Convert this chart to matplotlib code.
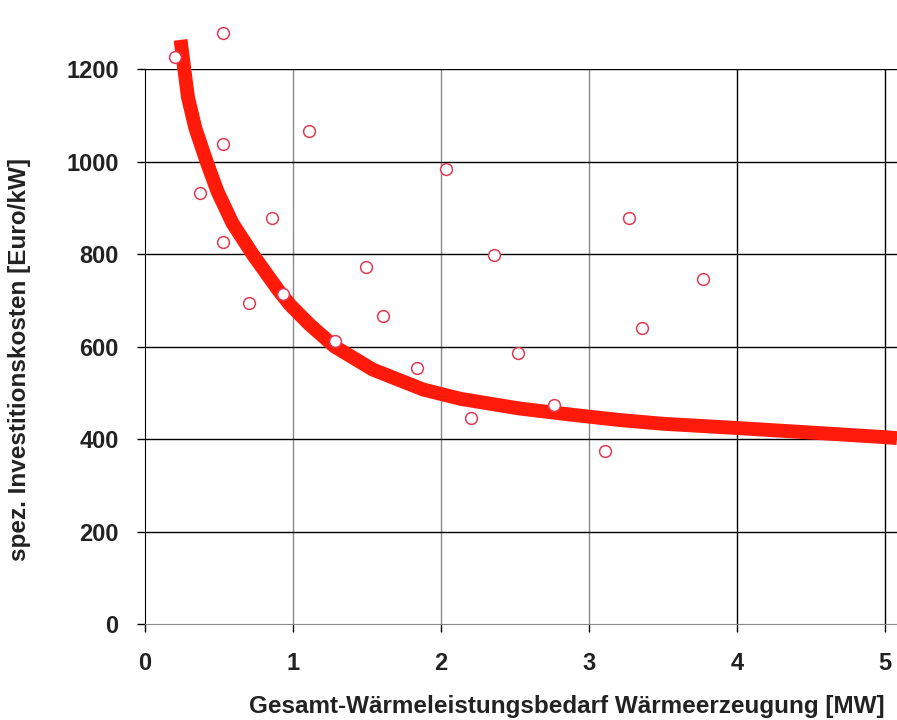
import matplotlib
matplotlib.use('Agg')
import matplotlib.pyplot as plt

# Messpunkte
leistung_mw = [0.20, 0.53, 0.53, 0.37, 0.53, 1.11, 0.86, 0.70, 0.93, 1.49, 1.61,
               1.28, 1.84, 2.03, 2.36, 2.52, 2.20, 2.76, 3.11, 3.27, 3.36, 3.77]
kosten = [1226, 1278, 1038, 932, 826, 1066, 878, 694, 714, 772, 666,
          612, 554, 984, 798, 586, 445, 473, 374, 878, 640, 746]

# Ausgleichskurve
kurve_x = [0.24, 0.26, 0.29, 0.34, 0.42, 0.49, 0.59, 0.73, 0.90, 0.98, 1.11, 1.28,
           1.54, 1.88, 2.13, 2.53, 2.87, 3.21, 3.50, 3.99, 4.50, 5.00, 5.08]
kurve_y = [1263, 1213, 1139, 1072, 996, 935, 867, 798, 722, 690, 648, 600,
           550, 507, 487, 466, 453, 441, 433, 424, 414, 404, 402]

x_ticks = [0, 1, 2, 3, 4, 5]
y_ticks = [0, 200, 400, 600, 800, 1000, 1200]

plt.rcParams['font.family'] = ['Liberation Sans', 'DejaVu Sans']

fig = plt.figure(figsize=(8.97, 7.2), dpi=100)
ax = fig.add_axes([0.1617, 0.1333, 0.8383, 0.7708])

ax.set_xlim(0, 5.08)
ax.set_ylim(0, 1200)
ax.set_xticks(x_ticks)
ax.set_yticks(y_ticks)

ax.grid(True, color='black', linewidth=1.0)
for i, gl in enumerate(ax.get_xgridlines()):
    if i in (1, 2, 3):
        gl.set_color('#8a8a8a')
    elif i == 0:
        gl.set_visible(False)
for i, gl in enumerate(ax.get_ygridlines()):
    if i == 0:
        gl.set_visible(False)
ax.set_axisbelow(True)

for s in ['top', 'right']:
    ax.spines[s].set_visible(False)
ax.spines['left'].set_color('black')
ax.spines['bottom'].set_color('#8a8a8a')

ax.plot(kurve_x, kurve_y, color='#ff1a0a', linewidth=10, solid_capstyle='butt',
        solid_joinstyle='round', clip_on=False, zorder=3)
ax.plot(leistung_mw, kosten, linestyle='none', marker='o', markersize=8.5,
        markerfacecolor='white', markeredgecolor='#e23a52', markeredgewidth=1.1,
        clip_on=False, zorder=4)

ax.tick_params(axis='y', length=6, width=1, color='black', pad=13,
               labelsize=17, labelcolor='#222222')
ax.tick_params(axis='x', length=6, width=1, color='black', pad=14,
               labelsize=17, labelcolor='#222222')
for lab in ax.get_xticklabels() + ax.get_yticklabels():
    lab.set_fontweight('bold')

ax.set_ylabel('spez. Investitionskosten [Euro/kW]', fontsize=17.5, fontweight='bold',
              color='#222222')
ax.yaxis.set_label_coords(-0.152, 0.476)
fig.text(885 / 897, 1 - 706 / 720, 'Gesamt-Wärmeleistungsbedarf Wärmeerzeugung [MW]',
         ha='right', va='center', fontsize=17.5, fontweight='bold', color='#222222')

fig.savefig('out.png', dpi=100)
